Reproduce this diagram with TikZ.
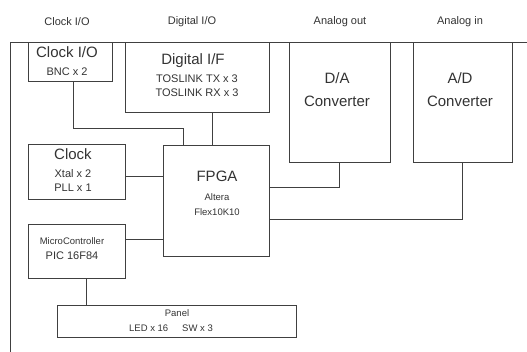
\documentclass[tikz,border=0pt]{standalone}
\usepackage{fontspec}
\setmainfont{Liberation Sans}
\usetikzlibrary{positioning,calc}

\begin{document}
\begin{tikzpicture}[
  x=1pt, y=-1pt, line width=0.8pt, draw=black!75, text=black!80,
  box/.style={draw, rectangle, inner sep=0pt},
  big/.style={font=\fontsize{15}{17}\selectfont, inner sep=0pt},
  mid/.style={font=\fontsize{11}{13}\selectfont, inner sep=0pt},
  small/.style={font=\fontsize{9.5}{11}\selectfont, inner sep=0pt},
  ttl/.style={font=\fontsize{11}{13}\selectfont, inner sep=0pt},
]
\useasboundingbox (0,0) rectangle (527,352);

% frame
\draw (10,352) -- (10,42) -- (527,42);

% titles
\node[ttl] (tclk) at (67,22) {Clock I/O};
\node[ttl] (tdig) at (192,22) {Digital I/O};
\node[ttl] (tdao) at (340,22) {Analog out};
\node[ttl] (tadi) at (460,22) {Analog in};

% blocks
\node[box, minimum width=84pt, minimum height=39pt] (clkio) at (70,61.5) {};
\node[box, minimum width=144pt, minimum height=70pt] (digif) at (197,77) {};
\node[box, minimum width=101pt, minimum height=120pt] (da) at (339.5,102) {};
\node[box, minimum width=99pt, minimum height=120pt] (ad) at (462.5,102) {};
\node[box, minimum width=97pt, minimum height=55pt] (clk) at (76.5,171.5) {};
\node[box, minimum width=106pt, minimum height=111pt] (fpga) at (216,200.5) {};
\node[box, minimum width=97pt, minimum height=54pt] (mcu) at (76.5,251) {};
\node[box, minimum width=239pt, minimum height=32pt] (panel) at (176.5,321) {};

% texts
\node[big] (lclkio) at (67,52.5) {Clock I/O};
\node[mid] (sclkio) at (67,72) {BNC x 2};
\node[big] (ldigif) at (193,61) {Digital I/F};
\node[mid] (sdigtx) at (197,79) {TOSLINK TX x 3};
\node[mid] (sdigrx) at (197,93) {TOSLINK RX x 3};
\node[big] (lda) at (337,78.5) {D/A};
\node[big] (sda) at (337,101) {Converter};
\node[big] (lad) at (460,78.5) {A/D};
\node[big] (sad) at (460,101) {Converter};
\node[big] (lfpga) at (217,176.5) {FPGA};
\node[small] (sfpga1) at (217,197) {Altera};
\node[small] (sfpga2) at (217,212) {Flex10K10};
\node[big] (lclk) at (73,154) {Clock};
\node[mid] (sclk1) at (73,174) {Xtal x 2};
\node[mid] (sclk2) at (73,188) {PLL x 1};
\node[small] (lmcu) at (72,241) {MicroController};
\node[mid] (smcu) at (72,256) {PIC 16F84};
\node[small] (lpanel) at (177,313) {Panel};
\node[small] (spanel) at (171,328) {LED x 16\hspace{14pt}SW x 3};

% connections
\draw ([xshift=3pt]clkio.south) -- ++(0,47) -| ([xshift=-33pt]fpga.north);
\draw ([xshift=-4pt]fpga.north) -- ([xshift=-4pt]fpga.north |- digif.south);
\draw ([yshift=-4.5pt]clk.east) -- ([yshift=-4.5pt]clk.east -| fpga.west);
\draw ([yshift=12pt]mcu.east) -- ([yshift=12pt]mcu.east -| fpga.west);
\draw (da.south) |- ([yshift=13.5pt]fpga.east);
\draw (ad.south) |- ([yshift=-18.5pt]fpga.east);
\draw ([xshift=9.5pt]mcu.south) -- ([xshift=9.5pt]mcu.south |- panel.north);
\end{tikzpicture}
\end{document}
